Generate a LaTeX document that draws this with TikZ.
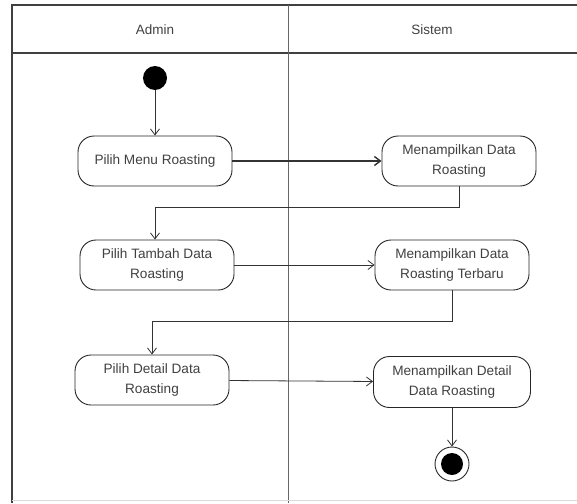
\documentclass[tikz,border=0pt]{standalone}
\usepackage{fontspec}
\setmainfont{Liberation Sans}
\usetikzlibrary{arrows.meta}
\begin{document}
\begin{tikzpicture}[x=1pt,y=-1pt,
  act/.style={draw=black!85, line width=0.9pt, rounded corners=16pt, minimum width=154pt, minimum height=50pt,
    align=center, inner sep=1pt, font=\fontsize{13.6}{19.5}\selectfont, text=black!75},
  arr/.style={draw=black!80, line width=0.8pt, -{Straight Barb[length=6pt,width=9pt]}},
  lane/.style={font=\fontsize{13.5}{15}\selectfont, text=black!75}]
\useasboundingbox (0,0) rectangle (577,503);
% swimlane frame
\draw[line width=1.4pt, black!75] (577,5) -- (12,5) -- (12,503);
\draw[line width=1.4pt, black!75] (12,53) -- (577,53);
\draw[line width=0.5pt, black!60] (288,5) -- (288,503);
\draw[line width=0.4pt, black!15] (12,500) -- (577,500);
\node[lane] (admin) at (155,30) {Admin};
\node[lane] (sistem) at (432,30) {Sistem};
% nodes
\node[circle, fill=black, minimum size=24pt, inner sep=0pt] (start) at (155,78) {};
\node[act] (m1) at (155,161) {Pilih Menu Roasting};
\node[act] (s1) at (459,161) {Menampilkan Data\\Roasting};
\node[act] (m2) at (157,265) {Pilih Tambah Data\\Roasting};
\node[act] (s2) at (452,265) {Menampilkan Data\\Roasting Terbaru};
\node[act] (m3) at (152,380) {Pilih Detail Data\\Roasting};
\node[act, minimum width=157pt, minimum height=51pt] (s3) at (452,382) {Menampilkan Detail\\Data Roasting};
\node[circle, draw=black!85, line width=0.9pt, minimum size=34pt, inner sep=0pt] (end) at (452,464) {};
\fill[black] (end.center) circle (11pt);
% connectors
\draw[arr] (start) -- (m1);
\draw[arr, line width=1.4pt] (m1) -- (s1);
\draw[arr] (s1.south) -- ++(0,21) -| ([xshift=-2pt]m2.north);
\draw[arr] (m2) -- (s2);
\draw[arr] (s2.south) -- ++(0,31) -| (m3.north);
\draw[arr] (m3) -- (s3);
\draw[arr] (s3) -- (end);
\end{tikzpicture}
\end{document}
